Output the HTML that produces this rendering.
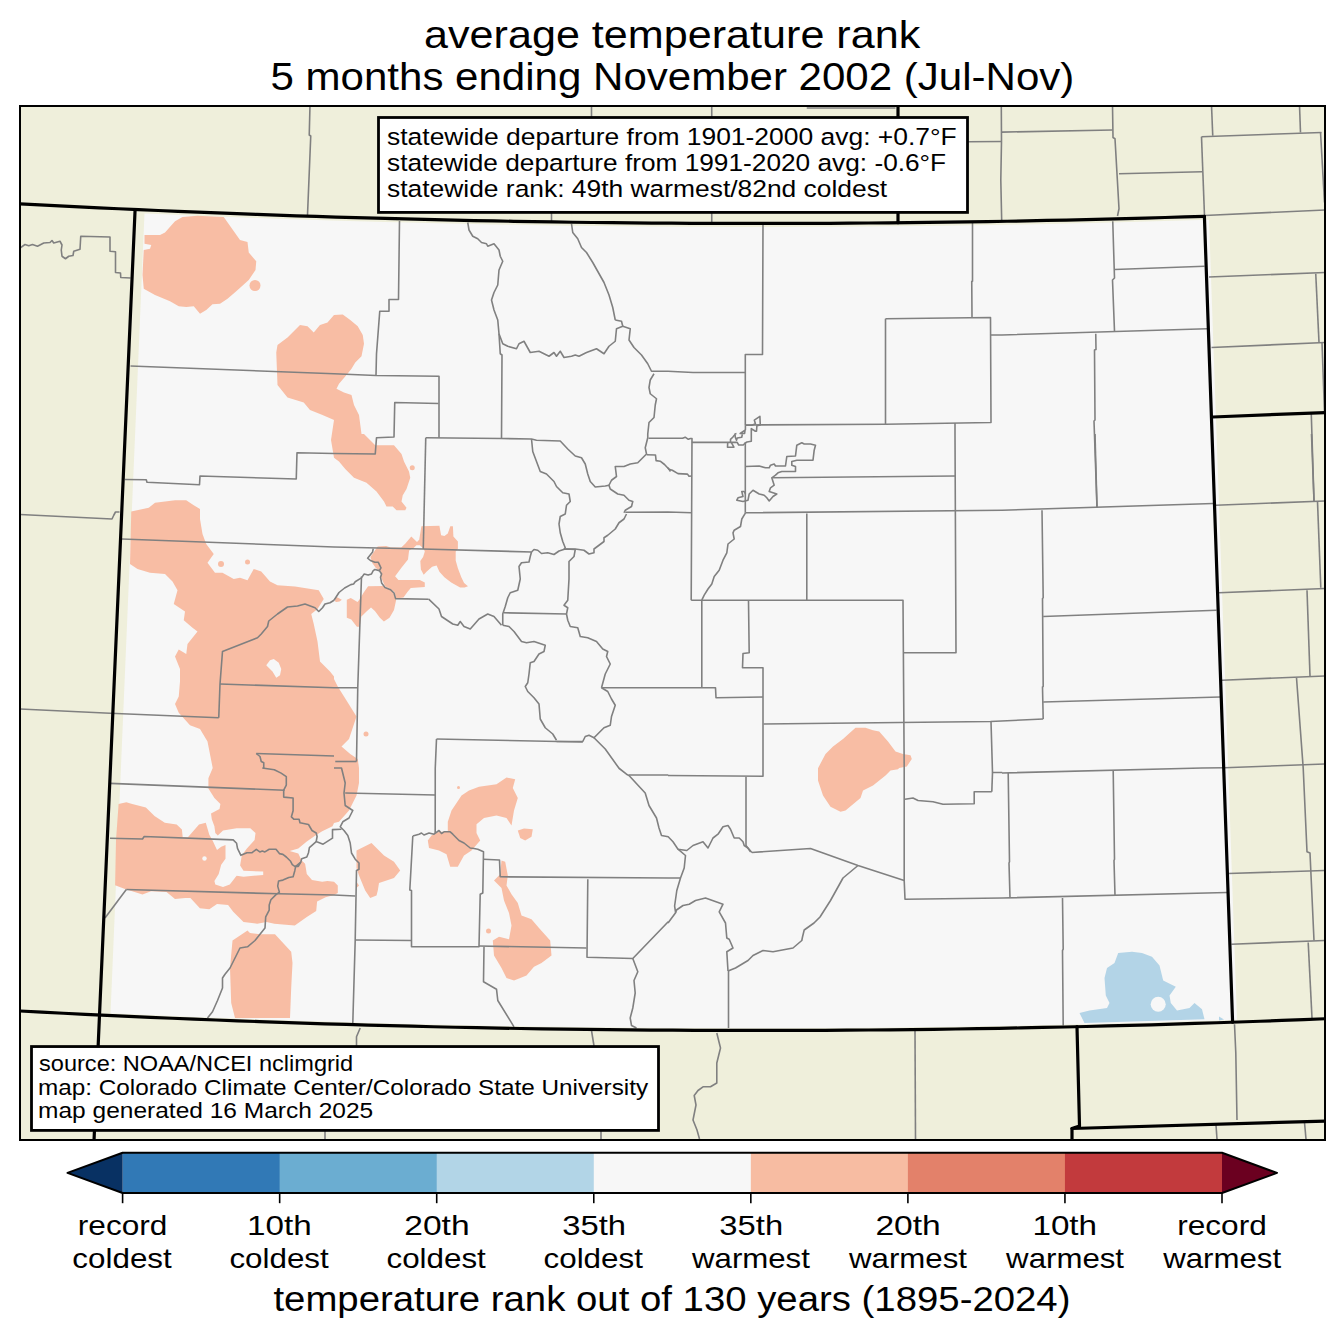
<!DOCTYPE html><html><head><meta charset="utf-8"><style>html,body{margin:0;padding:0;background:#fff;}svg{display:block;}text{font-family:"Liberation Sans",sans-serif;fill:#000;}</style></head><body>
<svg width="1344" height="1337" viewBox="0 0 1344 1337">
<rect x="0" y="0" width="1344" height="1337" fill="#fff"/>
<text x="424.07" y="47.90" font-size="39.01" textLength="496.17" lengthAdjust="spacingAndGlyphs">average temperature rank</text>
<text x="270.52" y="90.30" font-size="39.01" textLength="803.79" lengthAdjust="spacingAndGlyphs">5 months ending November 2002 (Jul-Nov)</text>
<defs><clipPath id="cp"><rect x="20.0" y="106.0" width="1305.0" height="1034.0"/></clipPath></defs>
<g clip-path="url(#cp)">
<rect x="20.0" y="106.0" width="1305.0" height="1034.0" fill="#efefdb"/>
<polygon points="144.50,213.41 171.11,214.56 197.72,215.66 224.34,216.71 250.95,217.70 277.56,218.65 304.18,219.55 330.79,220.39 357.40,221.18 384.01,221.93 410.62,222.62 437.24,223.26 463.85,223.85 490.46,224.38 517.08,224.87 543.69,225.31 570.30,225.69 596.91,226.03 623.52,226.31 650.14,226.54 676.75,226.72 703.36,226.85 729.98,226.93 756.59,226.96 783.20,226.94 809.81,226.87 836.42,226.74 863.04,226.57 889.65,226.34 916.26,226.06 942.88,225.73 969.49,225.35 996.10,224.92 1022.71,224.44 1049.33,223.91 1075.94,223.32 1102.55,222.69 1129.16,222.00 1155.78,221.27 1182.39,220.48 1209.00,219.64 1209.00,219.64 1237.00,1019.77 1237.00,1019.77 1208.84,1020.72 1180.67,1021.62 1152.51,1022.45 1124.35,1023.23 1096.19,1023.95 1068.03,1024.62 1039.86,1025.23 1011.70,1025.78 983.54,1026.27 955.38,1026.71 927.21,1027.09 899.05,1027.41 870.89,1027.67 842.73,1027.88 814.56,1028.03 786.40,1028.13 758.24,1028.16 730.08,1028.14 701.91,1028.06 673.75,1027.93 645.59,1027.73 617.42,1027.49 589.26,1027.18 561.10,1026.81 532.94,1026.39 504.77,1025.91 476.61,1025.38 448.45,1024.79 420.29,1024.14 392.12,1023.43 363.96,1022.66 335.80,1021.84 307.64,1020.96 279.48,1020.03 251.31,1019.03 223.15,1017.98 194.99,1016.88 166.83,1015.71 138.66,1014.49 110.50,1013.21 110.50,1013.50" fill="#f7f7f7"/>
<polygon points="144.50,235.00 160.00,235.00 165.00,232.50 175.00,221.25 182.50,217.00 197.50,215.75 223.75,217.00 240.00,240.00 247.50,242.00 248.75,252.50 256.25,261.25 255.50,270.00 248.75,280.00 236.25,291.25 227.50,298.75 220.00,303.75 212.50,304.25 206.25,310.00 200.00,313.75 193.75,306.25 186.25,307.00 178.75,306.25 170.00,301.25 155.00,295.00 143.75,288.75 142.50,275.00 143.75,250.00 150.00,248.75 151.25,245.00 144.50,243.75" fill="#f8bda4"/>
<polygon points="276.25,352.50 277.50,345.00 287.50,337.50 300.00,325.00 307.50,326.25 313.75,332.50 320.00,325.00 327.50,322.50 334.00,315.00 342.75,314.50 350.25,320.00 357.75,326.25 362.75,335.00 364.00,343.75 361.50,356.25 355.25,362.50 351.50,368.75 346.50,375.00 339.00,383.75 336.50,388.75 344.00,392.50 351.50,395.00 354.00,405.00 359.00,415.00 361.50,434.00 364.00,434.00 371.50,441.50 375.25,445.25 394.00,445.25 401.50,454.00 404.00,461.50 409.00,471.50 410.25,477.75 406.50,489.00 402.75,495.25 401.50,501.50 406.50,507.75 405.25,510.25 396.50,510.25 392.75,506.50 386.50,506.50 384.00,501.50 376.50,491.50 366.50,482.75 354.00,477.75 345.25,469.00 339.00,461.50 334.00,457.75 331.00,440.00 334.00,420.00 322.50,415.00 310.00,410.00 303.75,402.50 287.50,397.50 277.50,385.00" fill="#f8bda4"/>
<polygon points="131.25,511.50 148.75,507.75 155.00,502.75 175.00,500.25 186.25,500.25 193.75,505.25 200.00,509.00 200.00,519.00 202.50,534.00 206.25,544.00 213.75,554.00 207.50,562.75 215.00,572.75 222.50,572.75 233.75,579.00 240.00,577.75 247.50,580.25 253.75,569.00 261.25,571.50 270.00,581.50 277.50,585.25 295.00,586.50 318.75,590.25 323.75,599.00 317.50,609.00 311.25,614.00 313.75,624.00 317.50,641.50 320.00,661.50 330.00,671.50 334.00,676.50 334.00,679.00 337.75,686.50 344.00,696.50 356.50,716.50 349.00,739.00 341.50,746.50 350.25,754.00 357.75,759.00 359.00,768.00 359.00,783.00 356.50,795.50 349.00,810.50 339.00,821.75 334.00,823.00 332.50,826.20 322.20,831.30 315.40,835.60 306.80,841.60 298.30,848.40 289.70,851.00 298.30,853.60 301.70,860.40 305.10,863.80 306.80,874.10 312.00,880.10 322.20,881.80 327.40,881.00 334.00,881.80 337.80,885.50 337.80,893.00 334.00,895.00 325.60,897.20 317.10,901.50 316.20,910.90 306.80,916.90 294.80,925.50 282.90,924.60 274.30,923.70 266.60,922.00 257.20,923.70 243.50,922.00 233.20,911.80 228.10,904.90 217.00,904.10 209.30,909.20 199.90,908.30 190.40,898.10 185.30,898.10 175.00,898.90 166.50,892.10 151.10,891.20 142.50,894.60 132.20,891.20 126.30,889.50 115.10,885.20 116.00,840.00 118.60,803.90 126.30,802.20 132.20,803.90 145.90,807.40 154.50,815.90 164.80,822.80 176.70,824.50 181.90,829.60 182.70,837.30 187.90,837.30 199.00,824.50 205.80,822.80 209.30,834.70 212.70,840.70 217.00,850.10 221.20,846.70 225.50,845.00 225.50,858.70 221.20,864.70 218.70,874.10 214.40,881.00 215.30,884.40 223.00,886.90 229.80,884.40 236.60,875.80 243.50,876.70 263.20,875.00 263.20,871.50 243.50,870.70 240.10,865.60 241.80,855.30 246.90,848.40 254.60,839.90 255.50,833.00 250.30,828.20 236.60,828.20 223.00,830.50 217.80,835.60 215.30,833.00 214.40,826.20 211.80,819.30 211.00,813.40 219.50,809.10 220.40,803.90 214.40,798.00 208.40,788.50 208.40,778.30 212.70,768.00 207.50,741.50 200.00,729.00 190.00,725.25 178.75,712.75 175.00,704.00 178.75,696.50 180.00,681.50 180.00,669.00 175.00,656.50 178.75,649.50 186.25,654.00 187.50,644.00 197.50,631.50 192.50,627.75 183.75,620.25 185.00,611.50 173.75,604.00 177.50,590.25 172.50,581.50 165.00,574.00 150.00,572.75 137.50,569.00 130.00,564.00" fill="#f8bda4"/>
<polygon points="421.40,526.30 439.40,525.70 441.10,535.20 444.40,536.00 447.80,533.60 450.30,526.30 452.90,526.30 453.40,536.40 457.90,541.40 457.90,548.70 455.70,551.50 455.70,560.50 457.90,568.30 461.30,577.30 464.10,582.90 468.00,586.30 464.60,587.60 460.10,587.40 451.20,582.40 444.40,577.30 439.40,571.70 436.60,565.50 432.10,566.70 426.50,571.70 423.70,574.80 420.90,569.50 420.30,561.00 423.10,557.10 424.80,551.50 423.70,548.70 419.80,545.30 416.40,545.30 413.60,548.10 409.10,550.40 408.00,559.40 401.80,567.20 395.10,576.20 398.40,580.10 419.80,580.10 424.80,582.40 424.80,586.90 410.80,588.00 407.40,591.90 403.50,597.50 396.20,598.60 394.50,591.90 389.50,588.50 385.00,586.30 381.00,577.30 380.50,571.10 376.00,568.30 372.10,562.70 370.40,557.10 374.90,550.40 377.70,546.50 386.10,546.10 390.60,547.40 401.20,547.40 405.20,543.70 411.30,536.40 417.00,542.00 419.20,539.70" fill="#f8bda4"/>
<polygon points="368.10,586.30 382.70,586.10 392.30,590.80 396.20,599.80 394.00,609.90 389.50,617.70 383.90,621.60 379.90,617.70 374.90,611.00 371.00,607.60 367.00,611.00 361.40,616.60 359.70,626.70 356.90,626.70 351.30,619.40 346.80,617.70 346.80,599.80 350.80,598.10 357.50,602.00 359.70,599.20 363.70,592.50" fill="#f8bda4"/>
<polygon points="334.50,600.90 336.70,597.00 341.80,599.80 339.50,601.40 336.20,602.00" fill="#f8bda4"/>
<polygon points="818.00,768.20 825.50,754.00 833.00,746.50 843.00,739.00 855.50,727.80 865.50,727.80 873.00,730.20 879.20,731.50 888.00,741.50 895.50,751.50 903.00,754.00 910.50,755.20 911.80,759.00 906.80,766.50 899.20,768.00 898.00,769.20 890.50,770.50 885.50,775.50 873.00,785.50 863.00,790.50 860.50,798.00 845.50,810.50 840.50,811.80 830.50,806.80 823.00,795.50 818.00,780.50" fill="#f8bda4"/>
<polygon points="232.50,940.50 247.50,930.50 250.00,933.00 260.00,934.20 275.00,934.20 291.20,951.80 292.50,963.00 291.20,988.00 290.00,1018.00 235.00,1018.00 231.20,1003.00 230.00,968.00" fill="#f8bda4"/>
<polygon points="356.50,881.80 359.00,885.50 356.50,888.00" fill="#f8bda4"/>
<polygon points="356.50,850.50 371.50,843.00 384.00,855.50 394.00,861.80 400.20,870.50 394.00,878.00 379.00,883.00 377.80,890.50 376.50,895.50 370.20,898.00 365.20,890.50 359.00,875.50 356.50,868.00" fill="#f8bda4"/>
<polygon points="447.80,821.80 451.50,810.50 461.50,795.50 469.00,790.50 479.00,786.80 496.50,784.20 506.50,777.50 515.20,779.20 512.80,788.00 517.80,798.00 514.00,810.50 511.50,825.50 506.50,818.00 496.50,815.50 484.00,818.00 476.50,824.20 476.50,833.00 480.20,840.50 471.50,850.50 464.00,855.50 457.80,866.80 450.20,866.80 446.50,854.20 439.00,850.50 429.00,848.00 427.80,840.50 431.50,835.50 439.00,831.80 447.80,831.80" fill="#f8bda4"/>
<polygon points="517.80,830.50 524.00,828.50 532.80,829.20 531.50,836.80 525.20,840.50 520.20,838.00" fill="#f8bda4"/>
<polygon points="501.50,860.50 505.20,861.80 507.80,875.50 506.50,885.50 511.50,894.20 517.80,903.00 521.50,915.50 531.50,919.20 539.00,928.00 550.20,940.50 551.50,955.50 541.50,963.00 534.00,966.80 526.50,975.50 514.00,980.50 506.50,978.00 501.50,968.00 494.00,955.50 492.80,940.50 499.00,936.80 509.00,939.20 511.50,925.50 509.00,913.00 504.00,900.50 501.50,888.00 494.00,880.50 500.20,874.20" fill="#f8bda4"/>
<circle cx="255" cy="285.5" r="5.5" fill="#f8bda4"/>
<circle cx="221" cy="564" r="3" fill="#f8bda4"/>
<circle cx="247.5" cy="562" r="2.5" fill="#f8bda4"/>
<circle cx="412.25" cy="467.75" r="2.5" fill="#f8bda4"/>
<circle cx="366" cy="734" r="2.5" fill="#f8bda4"/>
<circle cx="458.5" cy="787.5" r="1.5" fill="#f8bda4"/>
<circle cx="488.5" cy="931" r="2.5" fill="#f8bda4"/>
<circle cx="204.5" cy="858.5" r="2.2" fill="#f7f7f7"/>
<polygon points="273.75,659.00 278.75,662.75 281.25,669.00 280.00,675.25 276.25,677.75 272.50,671.50 266.25,665.25 270.00,660.25" fill="#f7f7f7"/>
<polygon points="1079.50,1013.00 1089.50,1010.50 1107.00,1008.00 1109.50,1003.00 1105.80,995.50 1104.50,978.00 1107.00,968.00 1114.50,963.00 1118.20,953.00 1132.00,951.80 1142.00,953.00 1152.00,956.80 1159.50,965.50 1163.20,980.50 1175.80,986.80 1169.50,995.50 1170.80,1003.00 1177.00,1010.50 1189.50,1008.00 1194.50,1003.00 1202.00,1009.20 1204.50,1019.20 1084.50,1023.00" fill="#b3d4e7"/>
<polygon points="1219.00,1016.50 1224.00,1019.50 1219.00,1020.50" fill="#b3d4e7"/>
<circle cx="1158.2" cy="1004.2" r="7.5" fill="#f7f7f7"/>
<g fill="none" stroke="#808080" stroke-width="1.6" stroke-linejoin="round">
<polyline points="310.00,105.00 309.25,135.00 310.75,136.00 307.50,215.00"/>
<polyline points="20.00,248.00 25.00,244.50 28.75,245.75 32.50,244.50 37.50,246.25 43.75,243.00 50.00,242.50 52.00,240.50 53.75,243.00 60.00,241.25 62.00,245.00 61.25,250.00 62.00,256.25 65.50,258.75 68.75,256.25 73.00,255.50 73.75,251.25 80.00,249.25 80.75,236.25 110.00,237.00 110.00,251.25 115.50,251.75 115.50,272.50 120.50,273.00 120.75,277.50 130.50,278.00"/>
<polyline points="130.50,366.00 334.00,373.75 376.00,375.50 439.00,376.25 439.00,437.75"/>
<polyline points="399.50,221.00 398.50,299.50 389.00,299.50 389.00,311.25 379.75,311.25 376.50,353.75 376.00,375.00"/>
<polyline points="438.50,403.50 394.75,402.50 394.00,437.00 376.50,437.75 375.25,454.00 334.00,453.50 297.00,452.75 296.25,479.00 200.00,476.00 199.50,484.75 147.00,482.25 146.25,479.75 125.00,479.50"/>
<polyline points="467.75,222.50 469.00,230.00 472.75,236.25 477.75,238.75 481.50,242.50 486.50,243.75 487.75,246.25 494.00,243.75 499.00,250.00 500.25,256.25 502.75,261.25 499.00,270.00 497.75,285.00 494.00,292.50 491.50,300.00 494.00,310.00 497.75,320.00 499.00,333.75 502.75,343.75 507.75,346.25 516.50,348.75 519.00,343.75 524.00,341.25 530.25,352.50 539.00,351.25 549.00,356.25 554.00,352.50 556.50,356.25 560.25,351.25 564.00,357.50 571.50,356.25 575.25,355.00 579.00,356.25 586.50,352.50 596.50,348.75 604.00,353.75 609.00,346.25 615.25,341.25 616.50,328.75 622.75,326.25 621.50,321.25 615.25,320.00"/>
<polyline points="571.50,223.75 572.75,232.50 577.75,238.75 581.50,247.50 586.50,252.50 592.75,262.50 604.00,282.50 609.00,295.00 612.75,307.50 615.25,320.00"/>
<polyline points="622.75,326.25 630.25,328.75 629.00,340.00 634.00,347.50 641.50,355.00 647.75,363.75 651.50,371.25 668.00,371.25 693.00,372.50 745.50,372.50"/>
<polyline points="654.00,373.75 650.25,380.00 649.00,387.50 650.25,393.75 656.50,398.75 655.25,405.00 654.00,417.50 649.00,422.50 647.75,434.00 647.75,437.75 645.25,447.75 646.50,454.00 642.75,457.75 637.75,462.75 630.25,464.00 624.00,466.50 615.25,466.50 616.50,476.50 611.50,480.25 609.00,485.25"/>
<polyline points="499.00,333.75 500.25,353.75 502.00,355.00 501.50,438.50"/>
<polyline points="591.50,105.00 591.50,118.00"/>
<polyline points="551.50,212.00 551.50,222.00"/>
<polyline points="711.75,105.00 711.75,118.00"/>
<polyline points="711.75,212.00 711.75,222.00"/>
<polyline points="806.75,108.00 895.50,108.00"/>
<polyline points="972.50,223.00 972.50,281.25 971.75,281.25 972.00,317.50"/>
<polyline points="885.50,318.75 990.50,317.50 991.00,422.50 885.50,424.25 885.50,318.75"/>
<polyline points="990.50,335.00 1002.00,335.00 1207.00,328.75"/>
<polyline points="745.50,425.00 885.50,424.25"/>
<polyline points="955.00,423.00 955.00,434.00 956.00,652.80 903.00,652.80"/>
<polyline points="1112.50,105.00 1113.00,137.50 1115.00,138.75 1119.00,208.75 1117.50,216.00"/>
<polyline points="1119.00,173.75 1202.00,171.75"/>
<polyline points="1211.50,105.00 1212.75,135.75"/>
<polyline points="1201.50,136.75 1321.50,132.50"/>
<polyline points="1320.50,132.00 1324.50,202.50"/>
<polyline points="1299.50,105.00 1300.50,132.50"/>
<polyline points="1201.50,136.75 1204.50,216.00"/>
<polyline points="1204.50,215.50 1325.00,210.00"/>
<polyline points="1209.00,277.00 1325.00,272.50"/>
<polyline points="1315.75,273.75 1319.00,342.50"/>
<polyline points="1211.50,347.50 1325.00,342.50"/>
<polyline points="1322.00,342.50 1324.50,412.50"/>
<polyline points="1311.25,412.50 1314.00,501.00"/>
<polyline points="1112.75,221.25 1114.50,278.00 1112.50,280.00 1114.50,331.25"/>
<polyline points="1114.50,269.50 1204.50,266.25"/>
<polyline points="1095.75,333.75 1096.00,349.50 1094.50,350.00 1095.00,420.00 1094.00,421.00 1097.00,507.80"/>
<polyline points="20.00,514.50 112.00,519.00 113.75,515.25 115.50,512.00 119.50,512.00"/>
<polyline points="20.00,709.00 110.00,713.25"/>
<polyline points="122.00,539.00 334.00,547.00 422.75,549.00 531.50,552.00"/>
<polyline points="334.00,600.25 330.00,602.75 325.00,604.00 322.50,607.75 318.75,611.50 315.00,607.75 305.00,604.00 297.50,606.00 287.50,607.00 277.50,614.00 268.75,621.00 267.50,626.50 261.25,634.00 257.50,637.75 222.50,651.50 220.00,684.00 218.75,717.75"/>
<polyline points="220.00,684.00 334.00,687.75 357.75,687.75"/>
<polyline points="110.00,713.25 218.75,717.75"/>
<polyline points="256.25,753.50 334.00,756.00"/>
<polyline points="256.25,753.50 260.00,756.50 261.25,761.50 263.75,762.75 263.75,768.00"/>
<polyline points="425.75,437.75 501.50,438.50 531.50,439.00 536.50,440.25 560.25,441.00 567.75,449.00 575.25,456.00 581.50,457.75 585.25,464.00 587.75,474.00 590.25,481.50 595.25,487.00 605.25,486.00 609.00,485.25 610.25,489.00 617.75,494.00 624.00,495.25 629.00,500.25 632.75,501.50 631.50,506.50 625.25,510.25 624.00,512.75"/>
<polyline points="646.70,454.70 655.50,455.00 656.10,460.60 660.20,461.20 664.50,464.50 669.00,469.20 672.30,470.30 678.00,473.60 687.50,474.10 689.00,476.20 692.00,476.00"/>
<polyline points="625.25,512.25 668.00,512.00 691.80,512.80"/>
<polyline points="626.50,514.00 624.00,519.00 619.00,522.75 615.25,529.00 607.75,535.25 604.00,537.75 604.00,541.50 599.00,545.25 594.00,549.00 594.00,552.75 589.00,554.00 584.00,550.25 575.25,549.00 565.25,549.00"/>
<polyline points="531.50,439.00 532.75,451.50 536.50,461.50 540.25,471.50 546.50,474.00 554.00,481.50 556.50,486.50 562.75,492.75 569.00,494.00 570.25,501.50 566.50,505.25 565.25,514.00 560.25,516.50 559.00,524.00 560.25,532.75 562.75,541.50 565.25,547.75 564.00,549.00"/>
<polyline points="531.50,552.00 534.00,549.50 537.75,550.25 541.50,553.50 547.75,552.75 554.00,554.50 559.00,551.00 565.25,549.00 575.25,549.50 574.00,556.50 569.00,561.50 569.00,579.00 567.75,600.25 564.00,605.25 567.75,607.75 566.50,614.00 567.75,620.25 570.25,626.50 577.75,627.75 580.25,636.50 587.75,637.75 596.50,641.50 602.75,649.00 607.75,651.50 606.50,656.50 610.25,664.00 605.25,674.00 601.50,687.75"/>
<polyline points="531.50,552.00 530.25,556.50 529.00,562.00 521.50,562.75 519.00,566.50 520.25,579.00 517.75,590.25 510.25,592.75 507.75,597.75 505.25,606.50 502.75,614.00 502.75,625.25"/>
<polyline points="504.00,612.75 566.50,614.00"/>
<polyline points="502.75,625.25 509.00,626.50 514.00,631.50 521.50,641.50 526.50,642.75 534.00,641.50 545.25,645.25 544.00,651.50 539.00,654.00 534.00,661.50 530.25,662.75 529.00,674.00 527.75,682.75 525.25,686.50 527.75,691.50 534.00,697.75 539.00,704.00 540.25,719.00 545.25,727.75 552.75,734.00 556.50,740.25"/>
<polyline points="601.50,687.75 668.00,687.75 715.50,687.80 716.00,697.80 763.00,697.00"/>
<polyline points="601.50,687.75 607.75,691.50 611.50,699.00 615.25,705.25 611.50,716.50 610.25,725.25 604.00,727.75 594.00,737.75 589.00,735.25 585.25,736.50 582.75,741.50 556.50,741.50"/>
<polyline points="594.00,737.75 605.25,749.00 619.00,768.25 626.50,774.20 629.00,775.50 645.20,793.00 649.00,805.50 656.50,818.00 659.00,828.00 661.50,835.50 668.20,836.80 673.00,841.80 678.00,849.20 686.80,850.50 693.00,845.50 703.00,841.80 708.00,848.00 713.00,838.00 718.00,834.20 723.00,826.80 728.00,825.50 730.50,829.20 734.20,838.00 739.20,838.00 743.00,841.80 744.20,845.50 748.00,848.00 751.80,852.50"/>
<polyline points="436.50,739.00 582.75,742.00"/>
<polyline points="436.50,739.00 435.25,768.25 435.20,833.00"/>
<polyline points="334.00,600.25 339.00,592.50 344.60,588.00 350.80,584.60 353.60,584.00 355.20,581.80 361.40,577.90 364.20,574.00 368.10,575.10 371.50,574.00 373.20,570.60 374.90,569.50 379.40,570.60"/>
<polyline points="373.20,548.70 372.60,552.10 367.60,558.20 370.40,560.50 374.90,562.20 378.20,562.20 381.00,567.80 379.40,570.60 381.60,574.00 380.50,577.30 381.60,582.90 385.00,587.40 390.60,589.70 394.00,593.00 395.60,598.60 428.70,599.20"/>
<polyline points="428.70,599.20 439.00,609.00 441.50,616.50 452.75,624.00 457.75,625.25 460.25,621.50 464.00,626.50 470.25,629.00 479.00,619.00 487.75,614.00 494.00,616.50 501.50,625.25"/>
<polyline points="361.50,576.50 357.75,687.75 356.50,761.50"/>
<polyline points="335.25,761.50 356.50,761.50"/>
<polyline points="648.50,438.30 682.60,438.30 685.20,437.20 688.30,439.30 690.40,438.50 692.00,438.50 691.20,600.20"/>
<polyline points="668.00,467.80 670.50,471.50"/>
<polyline points="745.50,466.50 759.20,466.00 765.50,467.80 769.20,467.80 770.50,465.20 774.20,464.00 775.50,466.00 785.50,466.00 786.80,456.50 795.50,456.00 796.80,445.20 801.80,442.80 804.20,444.00 810.50,444.00 815.50,445.20 814.20,450.20 813.00,460.20 796.80,460.20 791.80,461.50 791.80,465.20 795.50,466.50 795.50,471.50 781.80,471.50 778.00,472.80 775.50,475.20 771.80,477.80 774.20,485.20 770.50,487.80 769.20,491.50 776.80,494.00 773.00,496.50 769.20,501.00 766.80,497.80 764.20,495.20 759.20,494.00 753.00,490.20 749.20,494.00 748.00,500.20 743.00,501.50 736.80,500.20 738.00,497.80 743.00,496.50 741.80,491.50 744.20,491.50 745.50,494.00"/>
<polyline points="771.80,477.80 955.50,476.00"/>
<polyline points="745.50,512.80 1002.20,510.20 1213.20,503.50"/>
<polyline points="806.80,513.50 806.80,600.20"/>
<polyline points="745.50,512.80 741.80,519.00 740.50,526.50 734.20,530.20 733.00,532.80 734.20,539.00 728.00,544.00 726.80,552.80 723.00,560.20 719.20,570.20 714.20,576.50 711.80,584.00 708.00,589.00 704.20,595.20 701.80,600.20"/>
<polyline points="691.20,600.20 903.00,600.20 904.20,768.20 904.20,880.50 905.00,899.20 1002.20,898.00 1227.00,892.50"/>
<polyline points="701.80,600.20 701.80,687.80"/>
<polyline points="748.50,601.00 749.20,652.80 743.00,653.50 742.50,667.80 763.00,667.80 763.00,776.20 668.00,775.50"/>
<polyline points="763.50,724.00 990.50,721.50 1043.20,719.00"/>
<polyline points="991.00,721.50 992.50,772.50 1002.20,772.50"/>
<polyline points="1095.00,434.00 1097.00,507.80"/>
<polyline points="1042.00,510.20 1043.20,597.80 1042.50,598.50 1043.20,686.50 1042.50,687.00 1043.20,719.00"/>
<polyline points="1043.20,616.50 1216.50,610.20"/>
<polyline points="1043.20,702.00 1220.00,697.00"/>
<polyline points="1311.50,434.00 1314.00,501.00"/>
<polyline points="1215.80,505.20 1324.50,501.00"/>
<polyline points="1317.50,501.50 1320.80,587.80"/>
<polyline points="1219.00,592.80 1324.50,588.50"/>
<polyline points="1307.00,590.20 1310.00,676.00"/>
<polyline points="1222.00,680.20 1324.50,676.00"/>
<polyline points="1296.50,677.80 1303.20,768.00 1307.00,851.80 1310.00,853.00 1314.00,940.50"/>
<polyline points="1224.50,767.80 1324.50,764.00"/>
<polyline points="110.00,783.40 284.60,790.20"/>
<polyline points="262.30,768.00 274.30,769.70 281.10,773.10 286.30,776.60 286.30,785.10 283.70,790.20 283.70,797.10 293.10,798.00 293.10,810.80 291.40,816.80 294.00,819.30 299.10,819.30 300.00,822.80 308.50,824.50 312.00,830.50 316.20,833.00 317.10,836.50 316.20,841.60 323.10,844.20 332.50,838.20 332.50,829.60 341.50,829.20"/>
<polyline points="316.20,841.60 309.40,847.60 308.50,852.70 306.80,857.00 301.70,858.70 300.80,862.10 295.70,866.40 294.80,870.70 293.10,876.70 288.80,877.50 282.90,880.10 278.60,881.00 277.70,886.10 279.40,892.10 276.00,894.60 270.90,899.80 269.20,904.90 269.20,910.10 265.70,916.90 265.00,928.00 260.00,934.20 255.00,940.50 247.50,946.80 240.00,948.00 235.00,958.00 230.00,968.00 225.00,974.20 222.50,978.00 222.50,988.00 217.50,1000.50 212.50,1011.80 207.50,1018.00"/>
<polyline points="110.00,838.20 142.50,839.00 144.20,836.50 233.20,839.90 236.60,843.30 237.50,848.40 240.90,855.30 246.90,852.70 252.10,852.70 256.30,849.30 259.80,851.90 262.30,851.00 264.90,851.90 269.20,849.30 276.00,849.30 279.40,853.60 282.90,854.40 286.30,857.00 290.60,861.30 292.30,864.70 294.80,866.40 298.30,866.40 300.80,862.10"/>
<polyline points="126.30,889.50 278.60,893.80 334.00,895.00 355.20,896.00"/>
<polyline points="126.30,889.50 105.00,918.00"/>
<polyline points="334.00,768.00 341.50,768.00 345.20,783.00 344.00,793.00 345.20,805.50 352.80,810.50 349.00,818.00 342.80,821.80 340.20,826.80 344.00,830.50 347.80,835.50 350.20,843.00 351.50,853.00 355.20,859.20 359.00,863.00 359.00,869.20 356.50,870.50 355.20,940.50 352.80,1023.00"/>
<polyline points="345.20,793.00 435.20,795.00"/>
<polyline points="355.20,940.00 411.50,940.50"/>
<polyline points="412.80,836.00 419.00,834.20 421.50,833.00 424.00,835.00 429.00,833.00 434.00,834.20 439.00,830.50 441.50,833.50 444.00,831.80 450.20,831.80 452.80,834.20 459.00,840.50 464.00,843.00 470.20,848.00 474.00,848.50 477.80,849.20 483.50,851.80 482.80,893.00 480.20,894.20 479.00,946.80 411.50,946.80 411.50,890.50 409.80,890.00 412.80,836.00"/>
<polyline points="483.50,859.20 499.50,860.00 500.20,876.80 668.20,878.00 680.50,878.00"/>
<polyline points="479.00,946.00 586.50,948.00"/>
<polyline points="484.00,946.80 483.50,981.80 496.50,989.20 497.80,1000.50 514.00,1026.80"/>
<polyline points="587.80,879.20 587.00,957.20 632.80,958.50 668.20,921.80"/>
<polyline points="632.80,958.50 637.80,971.80 634.00,980.50 635.20,993.00 632.80,1008.00 630.20,1018.00 631.50,1025.50 636.50,1028.00"/>
<polyline points="629.00,775.00 668.20,775.00"/>
<polyline points="746.00,776.80 746.00,845.50 750.50,851.80"/>
<polyline points="751.80,852.50 810.50,848.50 858.00,865.50 904.20,880.50"/>
<polyline points="858.00,865.50 843.00,878.00 830.50,900.50 820.00,917.00 814.00,923.00 804.20,930.00 802.50,937.00 801.80,940.50 793.00,948.00 773.00,951.80 763.00,950.50 753.00,955.50 748.00,960.50 735.50,968.00 728.00,971.00"/>
<polyline points="728.00,971.00 726.80,951.80 733.00,948.00 729.20,939.20 726.80,938.00 725.50,923.00 719.20,911.80 723.00,904.20 705.50,898.00 695.50,900.50 689.20,904.20 683.00,905.50 676.50,910.00 675.60,912.70 668.00,923.00"/>
<polyline points="678.00,849.20 685.50,855.50 684.20,868.00 680.50,878.00 676.80,890.50 674.60,906.00 675.60,912.70"/>
<polyline points="728.50,971.00 728.50,1028.00"/>
<polyline points="905.00,799.20 913.00,798.00 918.00,800.50 933.00,801.80 943.00,804.20 974.20,803.80 974.20,791.80 991.80,791.80"/>
<polyline points="716.80,1033.00 720.50,1048.00 716.80,1063.00 716.80,1083.00 710.50,1086.80 703.00,1086.80 698.00,1090.50 694.20,1095.50 696.00,1105.00 693.00,1120.00 697.00,1130.00 699.50,1139.00"/>
<polyline points="915.00,1030.50 915.50,1139.00"/>
<polyline points="1008.20,773.00 1009.50,861.80 1009.00,863.00 1010.00,898.00"/>
<polyline points="1113.20,770.50 1114.50,859.20 1114.00,860.50 1115.00,895.50"/>
<polyline points="1002.00,773.00 1202.00,768.00 1224.00,767.80"/>
<polyline points="1062.50,898.00 1063.20,949.20 1062.50,950.50 1063.20,1025.50"/>
<polyline points="1308.20,942.50 1312.00,1018.00"/>
<polyline points="1228.20,873.50 1324.50,870.50"/>
<polyline points="1231.50,944.20 1324.50,940.50"/>
<polyline points="1234.50,1024.20 1235.80,1053.00 1237.00,1120.00"/>
<polyline points="1216.00,1125.00 1217.00,1139.00"/>
<polyline points="1304.50,1122.50 1306.00,1139.00"/>
<polyline points="360.20,1028.00 356.50,1036.80 356.50,1046.00"/>
<polyline points="591.50,1030.50 594.00,1046.00"/>
<polyline points="325.00,1130.00 325.00,1139.00"/>
<polyline points="601.00,1130.00 601.00,1139.00"/>
<polyline points="763.00,223.00 762.50,354.50 745.30,354.50 745.30,425.30"/>
<polyline points="745.30,442.40 745.30,512.80"/>
<polyline points="691.80,442.40 730.50,442.40 737.20,442.40 738.70,445.00 743.20,445.00 745.00,443.20 746.90,442.00 751.30,441.30 751.30,428.65 755.40,431.25 756.50,431.25 756.90,425.70 760.30,425.00 759.90,416.40 754.30,420.10 755.40,423.80 752.10,425.30 745.40,425.30"/>
<polyline points="727.70,442.80 727.50,447.20 733.90,447.20 731.25,442.40"/>
<polyline points="745.40,425.30 745.40,429.80 740.20,433.50 744.60,433.50 745.10,430.00"/>
<polyline points="742.40,434.20 741.70,437.20 737.20,438.00 736.50,440.20 735.30,437.20 735.00,433.90 736.50,433.50"/>
<polyline points="735.00,434.50 732.70,437.20 730.50,439.40 730.50,442.40"/>
<polyline points="992.50,772.50 991.80,791.80"/>
<polyline points="1001.30,106.00 1001.50,141.50 1000.80,180.00 1001.70,221.00"/>
<polyline points="968.00,141.80 1001.40,141.50"/>
<polyline points="1001.50,132.10 1112.50,130.00"/>
<polyline points="425.75,437.75 423.25,549.00"/>
</g>
<g fill="none" stroke="#000" stroke-width="3.2" stroke-linejoin="round" stroke-linecap="round">
<polyline points="20.00,203.85 39.74,204.89 59.48,205.89 79.22,206.87 98.97,207.82 118.71,208.75 138.45,209.64 158.19,210.51 177.93,211.35 197.68,212.16 217.42,212.94 237.16,213.69 256.90,214.42 276.64,215.12 296.38,215.79 316.12,216.43 335.87,217.05 355.61,217.63 375.35,218.19 395.09,218.72 414.83,219.22 434.57,219.70 454.32,220.14 474.06,220.56 493.80,220.95 513.54,221.31 533.28,221.64 553.02,221.95 572.77,222.23 592.51,222.48 612.25,222.70 631.99,222.89 651.73,223.06 671.48,223.19 691.22,223.30 710.96,223.38 730.70,223.44 750.44,223.46 770.18,223.46 789.92,223.43 809.67,223.37 829.41,223.28 849.15,223.16 868.89,223.02 888.63,222.85 908.38,222.65 928.12,222.42 947.86,222.17 967.60,221.88 987.34,221.57 1007.08,221.23 1026.83,220.86 1046.57,220.47 1066.31,220.04 1086.05,219.59 1105.79,219.11 1125.53,218.60 1145.28,218.06 1165.02,217.50 1184.76,216.91 1204.50,216.29"/>
<polyline points="1204.40,216.29 1232.60,1022.22"/>
<polyline points="20.00,1011.01 41.76,1012.15 63.52,1013.25 85.28,1014.32 107.03,1015.35 128.79,1016.35 150.55,1017.31 172.31,1018.24 194.07,1019.14 215.82,1020.00 237.58,1020.83 259.34,1021.62 281.10,1022.38 302.86,1023.11 324.62,1023.80 346.38,1024.46 368.13,1025.08 389.89,1025.67 411.65,1026.22 433.41,1026.75 455.17,1027.23 476.93,1027.68 498.68,1028.10 520.44,1028.49 542.20,1028.84 563.96,1029.15 585.72,1029.44 607.48,1029.68 629.23,1029.90 650.99,1030.08 672.75,1030.22 694.51,1030.33 716.27,1030.41 738.02,1030.45 759.78,1030.46 781.54,1030.44 803.30,1030.38 825.06,1030.28 846.82,1030.16 868.58,1029.99 890.33,1029.80 912.09,1029.57 933.85,1029.30 955.61,1029.00 977.37,1028.67 999.12,1028.31 1020.88,1027.90 1042.64,1027.47 1064.40,1027.00 1086.16,1026.50 1107.92,1025.96 1129.67,1025.39 1151.43,1024.78 1173.19,1024.14 1194.95,1023.47 1216.71,1022.76 1238.47,1022.02 1260.22,1021.24 1281.98,1020.43 1303.74,1019.59 1325.50,1018.71"/>
<polyline points="135.10,209.49 99.50,1015.00 94.00,1141.00"/>
<polyline points="898.00,104.00 898.00,222.76"/>
<polyline points="1212.75,417.00 1326.00,412.50"/>
<polyline points="1077.00,1026.71 1079.50,1126.00 1072.00,1128.50 1326.00,1121.00"/>
<polyline points="1072.00,1128.50 1072.00,1140.00"/>
</g>
</g>
<rect x="20.0" y="106.0" width="1305.0" height="1034.0" fill="none" stroke="#000" stroke-width="2"/>
<rect x="378.5" y="117.5" width="589.0" height="94.9" fill="#fff" stroke="#000" stroke-width="2.8"/>
<text x="387.06" y="144.60" font-size="23.69" textLength="569.69" lengthAdjust="spacingAndGlyphs">statewide departure from 1901-2000 avg: +0.7°F</text>
<text x="387.07" y="171.00" font-size="23.69" textLength="559.08" lengthAdjust="spacingAndGlyphs">statewide departure from 1991-2020 avg: -0.6°F</text>
<text x="387.07" y="197.40" font-size="23.69" textLength="500.13" lengthAdjust="spacingAndGlyphs">statewide rank: 49th warmest/82nd coldest</text>
<rect x="31.5" y="1046.55" width="627.0" height="83.85" fill="#fff" stroke="#000" stroke-width="2.8"/>
<text x="39.04" y="1070.80" font-size="22.29" textLength="314.17" lengthAdjust="spacingAndGlyphs">source: NOAA/NCEI nclimgrid</text>
<text x="38.09" y="1094.60" font-size="22.29" textLength="610.02" lengthAdjust="spacingAndGlyphs">map: Colorado Climate Center/Colorado State University</text>
<text x="38.07" y="1117.70" font-size="22.29" textLength="335.16" lengthAdjust="spacingAndGlyphs">map generated 16 March 2025</text>
<rect x="122.60" y="1152.8" width="157.36" height="40.20" fill="#3179b6"/>
<rect x="279.66" y="1152.8" width="157.36" height="40.20" fill="#6badd1"/>
<rect x="436.71" y="1152.8" width="157.36" height="40.20" fill="#b2d5e7"/>
<rect x="593.77" y="1152.8" width="157.36" height="40.20" fill="#f7f7f7"/>
<rect x="750.83" y="1152.8" width="157.36" height="40.20" fill="#f7bca2"/>
<rect x="907.89" y="1152.8" width="157.36" height="40.20" fill="#e3816a"/>
<rect x="1064.94" y="1152.8" width="157.36" height="40.20" fill="#c23a3d"/>
<polygon points="122.6,1152.8 67.5,1172.90 122.6,1193.0" fill="#083163"/>
<polygon points="1222.0,1152.8 1277,1172.90 1222.0,1193.0" fill="#6b0020"/>
<polygon points="122.6,1152.8 1222.0,1152.8 1277,1172.90 1222.0,1193.0 122.6,1193.0 67.5,1172.90" fill="none" stroke="#000" stroke-width="2" stroke-linejoin="round"/>
<line x1="122.60" y1="1193.0" x2="122.60" y2="1203.2" stroke="#000" stroke-width="1.6"/>
<text x="77.80" y="1235.20" font-size="27.87" textLength="89.53" lengthAdjust="spacingAndGlyphs">record</text>
<text x="72.37" y="1267.50" font-size="27.87" textLength="99.36" lengthAdjust="spacingAndGlyphs">coldest</text>
<line x1="279.66" y1="1193.0" x2="279.66" y2="1203.2" stroke="#000" stroke-width="1.6"/>
<text x="247.13" y="1235.20" font-size="27.87" textLength="64.69" lengthAdjust="spacingAndGlyphs">10th</text>
<text x="229.42" y="1267.50" font-size="27.87" textLength="99.36" lengthAdjust="spacingAndGlyphs">coldest</text>
<line x1="436.71" y1="1193.0" x2="436.71" y2="1203.2" stroke="#000" stroke-width="1.6"/>
<text x="404.28" y="1235.20" font-size="27.87" textLength="65.37" lengthAdjust="spacingAndGlyphs">20th</text>
<text x="386.48" y="1267.50" font-size="27.87" textLength="99.36" lengthAdjust="spacingAndGlyphs">coldest</text>
<line x1="593.77" y1="1193.0" x2="593.77" y2="1203.2" stroke="#000" stroke-width="1.6"/>
<text x="562.32" y="1235.20" font-size="27.87" textLength="63.78" lengthAdjust="spacingAndGlyphs">35th</text>
<text x="543.54" y="1267.50" font-size="27.87" textLength="99.36" lengthAdjust="spacingAndGlyphs">coldest</text>
<line x1="750.83" y1="1193.0" x2="750.83" y2="1203.2" stroke="#000" stroke-width="1.6"/>
<text x="719.38" y="1235.20" font-size="27.87" textLength="63.78" lengthAdjust="spacingAndGlyphs">35th</text>
<text x="692.02" y="1267.50" font-size="27.87" textLength="117.88" lengthAdjust="spacingAndGlyphs">warmest</text>
<line x1="907.89" y1="1193.0" x2="907.89" y2="1203.2" stroke="#000" stroke-width="1.6"/>
<text x="875.45" y="1235.20" font-size="27.87" textLength="65.37" lengthAdjust="spacingAndGlyphs">20th</text>
<text x="849.08" y="1267.50" font-size="27.87" textLength="117.88" lengthAdjust="spacingAndGlyphs">warmest</text>
<line x1="1064.94" y1="1193.0" x2="1064.94" y2="1203.2" stroke="#000" stroke-width="1.6"/>
<text x="1032.41" y="1235.20" font-size="27.87" textLength="64.69" lengthAdjust="spacingAndGlyphs">10th</text>
<text x="1006.14" y="1267.50" font-size="27.87" textLength="117.88" lengthAdjust="spacingAndGlyphs">warmest</text>
<line x1="1222.00" y1="1193.0" x2="1222.00" y2="1203.2" stroke="#000" stroke-width="1.6"/>
<text x="1177.20" y="1235.20" font-size="27.87" textLength="89.53" lengthAdjust="spacingAndGlyphs">record</text>
<text x="1163.20" y="1267.50" font-size="27.87" textLength="117.88" lengthAdjust="spacingAndGlyphs">warmest</text>
<text x="273.42" y="1310.70" font-size="34.83" textLength="797.06" lengthAdjust="spacingAndGlyphs">temperature rank out of 130 years (1895-2024)</text>
</svg></body></html>
